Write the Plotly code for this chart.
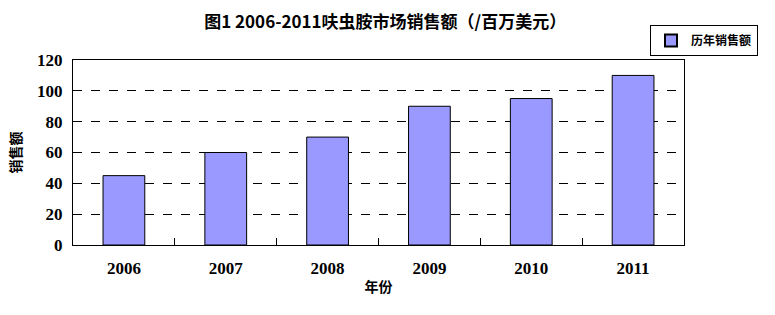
import plotly.graph_objects as go

years = ["2006", "2007", "2008", "2009", "2010", "2011"]
sales = [45, 60, 70, 90, 95, 110]
series_name = "历年销售额"
title_text = "图1 2006-2011呋虫胺市场销售额（/百万美元）"
x_title = "年份"
y_title = "销售额"
y_ticks = [0, 20, 40, 60, 80, 100, 120]

cjk = "Noto Sans CJK SC"
serif = "Liberation Serif"

fig = go.Figure()
fig.add_trace(go.Bar(
    x=years, y=sales, name=series_name,
    marker=dict(color="#9999FF", line=dict(color="black", width=1)),
    width=0.41, showlegend=True,
))

fig.update_layout(
    width=775, height=315,
    margin=dict(l=73, r=91, t=60, b=70),
    paper_bgcolor="white", plot_bgcolor="white",
    title=dict(text=title_text, x=0.497, xanchor="center",
               y=1 - 22 / 315, yanchor="middle",
               font=dict(family=cjk, size=17, color="black", weight="bold")),
    showlegend=True,
    legend=dict(x=(650 - 73) / 611, y=(245 - 25) / 185, xanchor="left", yanchor="top",
                bordercolor="black", borderwidth=1, bgcolor="white",
                font=dict(family=cjk, size=12, color="black", weight="bold"),
                itemsizing="constant", itemwidth=30),
    xaxis=dict(
        type="category",
        showline=True, linecolor="black", linewidth=1, mirror=True,
        ticks="inside", ticklen=7, tickcolor="black", tickson="boundaries",
        tickfont=dict(family=serif, size=17, color="black", weight="bold"),
        ticklabelstandoff=8,
        range=[-0.5, 5.5],
        showgrid=False,
        title=dict(text=x_title, font=dict(family=cjk, size=14, color="black", weight="bold"), standoff=4),
    ),
    yaxis=dict(
        range=[0, 120], tickvals=y_ticks,
        showline=True, linecolor="black", linewidth=1, mirror=True,
        showgrid=True, gridcolor="black", griddash="dash", gridwidth=1,
        tickfont=dict(family=serif, size=17, color="black", weight="bold"),
        ticks="", ticklabelstandoff=6,
        title=dict(text=y_title, font=dict(family=cjk, size=14, color="black", weight="bold"), standoff=12),
        zeroline=False,
    ),
    bargap=0.59,
)

fig.write_html("out.html")
